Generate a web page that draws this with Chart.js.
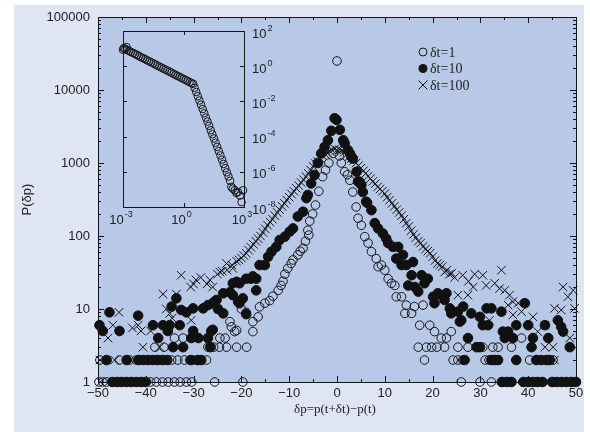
<!DOCTYPE html>
<html>
<head>
<meta charset="utf-8">
<script src="https://cdn.jsdelivr.net/npm/chart.js@4.4.0/dist/chart.umd.min.js"></script>
<style>
  html, body { margin: 0; padding: 0; background: #fff; }
  #wrap { position: relative; width: 590px; height: 432px; }
  #main { position: absolute; left: 0; top: 0; }
  #inset { position: absolute; left: 110px; top: 20px; }
</style>
</head>
<body>
<div id="wrap">
  <canvas id="main" width="590" height="432"></canvas>
  <canvas id="inset" width="180" height="215"></canvas>
</div>
<script>
// P(dp) histograms for three time lags: [dp, P]
const seriesLabels = ["\u03b4t=1", "\u03b4t=10", "\u03b4t=100"];

const openPts = [
  [0, 25000], [-0.8, 1350], [0.5, 1250], [-1.7, 1000], [-2.4, 800], [-3.0, 650], [-3.8, 410],
  [-4.5, 265], [-5.1, 200], [-5.7, 160], [-6.1, 120], [-5.9, 103], [-6.6, 85], [-7.1, 68],
  [-7.7, 62], [-8.2, 55], [-9.2, 47], [-9.6, 42], [-10.3, 36], [-10.9, 30], [-11.3, 24],
  [-11.7, 21], [-12.3, 18], [-13.4, 15], [-14.1, 13], [-15.1, 12], [-16.2, 10.7], [-16.5, 7.8],
  [-17.6, 6.7], [-17.6, 4.9], [-19.0, 9], [-20.0, 10], [-21.4, 4.9], [-21.0, 5.1], [-22.1, 5.7],
  [-22.4, 6.7],
  [-18.9, 3], [-21.0, 3], [-23.1, 3], [-24.6, 3], [-25.8, 3], [-27.0, 3], [-36.2, 3], [-38.1, 3],
  [-23.4, 4], [-24.5, 4], [-32.2, 4], [-34.0, 4],
  [-27.3, 2], [-29.5, 2], [-30.8, 2], [-31.9, 2], [-33.3, 2], [-34.6, 2], [-42.0, 2], [-43.4, 2],
  [-45.5, 2], [-49.6, 2],
  [-19.7, 1], [-25.6, 1], [-30.4, 1], [-31.5, 1], [-32.8, 1], [-34.0, 1], [-35.3, 1], [-36.5, 1],
  [-37.8, 1], [-39.0, 1], [-48.2, 1], [-49.0, 1], [-49.8, 1],
  [0.9, 1000], [1.6, 760], [2.2, 690], [2.7, 580], [3.3, 400], [4.0, 250], [4.4, 175], [5.1, 140],
  [5.8, 98], [6.5, 80], [7.2, 61], [8.2, 49], [8.6, 38], [9.3, 40], [10.0, 34], [10.7, 26],
  [11.4, 22.5], [12.1, 21], [12.4, 14.7], [13.5, 14.7], [14.2, 8.7], [14.5, 11.3], [15.6, 8.7],
  [16.2, 10.8], [18.0, 11.3], [17.3, 6], [19.4, 6], [20.4, 4.9], [21.8, 4], [22.9, 4], [23.9, 4.9],
  [38.6, 4],
  [17.0, 3], [18.7, 3], [19.8, 3], [20.9, 3], [22.5, 3], [25.3, 3], [27.4, 3], [30.5, 3], [32.6, 3],
  [33.7, 3], [36.5, 3],
  [18.3, 2], [24.3, 2], [25.3, 2], [26.3, 2], [31.0, 2], [31.8, 2], [32.7, 2], [33.5, 2], [37.5, 2],
  [40.3, 2], [45.2, 2],
  [26.0, 1], [29.9, 1], [32.3, 1], [34.7, 1], [36.2, 1], [38.9, 1], [41.7, 1], [45.5, 1], [49.8, 1]
];

const filledPts = [
  [-0.5, 4100], [-0.1, 3900], [-1.2, 2760], [0.6, 2850], [-1.9, 2050], [-2.6, 1660], [-3.3, 1350],
  [-4.0, 1000], [-4.7, 685], [-5.4, 525], [-6.1, 365], [-6.4, 330], [-7.1, 215], [-8.2, 185],
  [-9.2, 127], [-9.9, 115], [-10.9, 98], [-12.0, 88], [-12.7, 71], [-13.7, 61], [-14.4, 52],
  [-15.1, 40], [-16.2, 40], [-16.9, 26], [-17.6, 28], [-18.0, 26], [-16.9, 18], [-19.0, 26],
  [-20.4, 22.5], [-21.0, 23.6], [-21.8, 22.5], [-22.4, 17], [-21.8, 15.5], [-23.8, 16.4],
  [-19.7, 14], [-20.4, 12], [-20.7, 12.6], [-25.2, 13.3], [-24.9, 10], [-23.8, 8.7], [-19.0, 8.5],
  [-25.6, 12.6], [-26.0, 12], [-27.0, 11.3], [-28.0, 10.2], [-30.1, 10.2], [-31.5, 9], [-32.6, 9.7],
  [-33.6, 14], [-34.6, 10.8], [-26.3, 5], [-26.0, 5.2], [-27.0, 4], [-29.0, 4], [-30.5, 4],
  [-29.8, 4.2], [-30.1, 5], [-32.9, 6], [-34.3, 3], [-32.2, 3], [-26.5, 3], [-35.0, 6], [-36.4, 6],
  [-38.5, 6], [-35.4, 5], [-37.4, 4], [-41.6, 8.1], [-47.6, 9], [-49.7, 6], [-49.0, 5], [-45.5, 5],
  [-48.2, 2], [-44.0, 2], [-41.5, 2], [-40.5, 2], [-39.5, 2], [-38.5, 2], [-37.5, 2], [-36.5, 2],
  [-35.5, 2], [-30.5, 2], [-29.1, 2], [-28.4, 2],
  [-47.0, 1], [-46.0, 1], [-45.0, 1], [-44.0, 1], [-43.0, 1], [-42.0, 1], [-41.0, 1], [-40.0, 1],
  [1.3, 2050], [1.6, 1870], [2.3, 1500], [2.7, 1350], [3.0, 1220], [3.3, 1150], [4.1, 760],
  [4.4, 555], [4.7, 555], [5.1, 500], [5.4, 400], [6.1, 295], [6.3, 285], [7.2, 226], [7.9, 150],
  [8.6, 127], [9.6, 108], [10.3, 92], [10.7, 80], [11.7, 71], [12.8, 71], [12.4, 49], [13.8, 55],
  [13.5, 40], [14.5, 40], [15.9, 44], [15.6, 29], [14.9, 21], [16.3, 20], [17.0, 17.3], [17.7, 29],
  [19.0, 26], [18.3, 22.5], [20.1, 14.7], [21.1, 16.4], [21.8, 15.5], [22.9, 16.4], [20.4, 12],
  [22.5, 13.3], [23.6, 10.2], [23.9, 8.7], [25.3, 9.2], [26.0, 7], [25.7, 6.7], [26.4, 10.8],
  [28.1, 8.7], [29.9, 7.8], [31.3, 10.2], [32.3, 10.2], [34.4, 9.2], [30.5, 6], [31.6, 6],
  [34.7, 4.9], [35.8, 4.9], [35.1, 4], [36.8, 4], [37.5, 6], [39.3, 12], [40.0, 6], [41.0, 4],
  [43.5, 6], [44.2, 4], [27.4, 4], [29.2, 3], [29.9, 3], [40.7, 3], [46.2, 7], [46.9, 5.7],
  [47.3, 4.9], [48.7, 3],
  [26.7, 2], [32.3, 2], [33.0, 2], [33.7, 2], [37.5, 2], [41.7, 2], [42.7, 2], [43.8, 2], [44.5, 2],
  [34.5, 1], [35.5, 1], [36.5, 1], [39, 1], [40, 1], [41, 1], [42, 1], [43, 1], [45, 1], [46, 1],
  [47, 1], [48, 1], [49, 1], [50, 1]
];

const crossPts = [
  [0, 1500], [-0.5, 1560], [0.5, 1520], [-1, 1500], [1, 1480], [-1.5, 1450], [1.5, 1400],
  [-2, 1380], [2, 1300], [-2.5, 1320], [2.5, 1220], [-3, 1250], [3, 1150], [-3.5, 1150],
  [3.5, 1080], [-4, 1050], [4, 1000], [-4.5, 980], [4.5, 920], [-5, 900], [5, 850], [-5.5, 800],
  [5.5, 780], [-6, 720], [6, 720], [-6.5, 650], [6.5, 660], [-7, 590], [7, 610], [-7.5, 540],
  [7.5, 560], [-8, 490], [8, 520], [-8.5, 450], [8.5, 470], [-9, 410], [9, 440], [-9.5, 375],
  [9.5, 410], [-10, 340], [10, 380], [-10.5, 310], [10.5, 340], [-11, 280], [11, 310],
  [-11.5, 255], [11.5, 280], [-12, 230], [12, 255], [-12.5, 210], [12.5, 230], [-13, 190],
  [13, 210], [-13.5, 170], [13.5, 190], [-14, 155], [14, 170], [-14.5, 140], [14.5, 150],
  [-15, 125], [15, 135], [-15.5, 112], [15.5, 118], [-16, 100], [16, 105], [-16.5, 92], [16.5, 95],
  [-17, 85], [17, 85], [-17.5, 77], [17.5, 80], [-18, 70], [18, 72], [-18.5, 64], [18.5, 66],
  [-19, 58], [19, 62], [-19.5, 54], [19.5, 58], [-20, 50], [20, 52], [-20.5, 47], [20.5, 46],
  [-21, 45], [21, 42], [-21.8, 36], [21.5, 40], [-22, 40], [22, 38], [-23.1, 42], [22.5, 32],
  [-23, 34], [23, 34], [-24.5, 32], [23.5, 30], [-24, 33], [24, 31], [-25, 30], [24.6, 27],
  [-26, 20], [25.3, 15.5], [-26.6, 25], [26.3, 29], [-27.2, 22], [27.4, 15.5], [-28.5, 27],
  [27.5, 24], [-29.5, 25], [28.5, 20], [-30, 22], [28.8, 30], [-30.6, 20], [30.5, 29],
  [-32.6, 29], [31.2, 21], [-30.5, 7], [31.9, 7], [-33.6, 16], [33, 22.5], [-34.5, 7.5], [34, 19],
  [-35, 8.7], [34.4, 34], [-35.7, 10], [35.1, 18], [-36.4, 16], [35.8, 11.3], [-37.1, 3],
  [36.1, 15.5], [-39, 5], [36.8, 12.6], [-40.6, 3], [36.8, 8.3], [-41, 5], [37.9, 12], [-41.6, 6],
  [38.6, 9.2], [-42.8, 5.5], [41, 7.8], [-45.6, 9], [42, 4.9], [-46.9, 6], [43.5, 3], [-47.9, 4],
  [43.5, 6], [-49.6, 2], [45.2, 3], [-46.5, 2], [45.5, 10.2], [-49.5, 1], [46.9, 9.7], [47.3, 20],
  [48.3, 14.7], [49.4, 18], [49.7, 10.2], [48.7, 4], [44.5, 2], [45.5, 2], [40.5, 1], [46.5, 1],
  [48, 1]
];

// inset: log-log distribution
const insetX = [0.0010, 0.0011, 0.0013, 0.0015, 0.0016, 0.0020, 0.0025, 0.0032, 0.0040, 0.0050,
  0.0063, 0.0079, 0.010, 0.0126, 0.0158, 0.020, 0.025, 0.032, 0.040, 0.050, 0.063, 0.079, 0.10,
  0.126, 0.158, 0.20, 0.25, 0.32, 0.40, 0.50, 0.63, 0.79, 1.0, 1.26, 1.58, 2.0, 2.5, 3.0, 3.55,
  4.27, 5.13, 6.17, 7.41, 8.91, 10.7, 12.9, 15.5, 18.6, 22.4, 26.9, 32.4, 38.9, 46.8, 56.2, 67.6,
  81.3, 97.7, 117, 141, 170, 204, 234, 282, 347, 417, 501, 631, 891, 759];
const insetY = [8.7, 10.7, 9.6, 12.3, 8.4, 7.3, 6.4, 5.6, 4.9, 4.3, 3.7, 3.2, 2.85, 2.5, 2.15,
  1.9, 1.65, 1.44, 1.26, 1.1, 0.96, 0.84, 0.73, 0.64, 0.56, 0.49, 0.43, 0.37, 0.32, 0.28, 0.25,
  0.215, 0.19, 0.165, 0.145, 0.125, 0.11, 0.10, 0.059, 0.034, 0.0195, 0.0112, 0.0065, 0.0037,
  0.0021, 0.0012, 7.1e-4, 4.1e-4, 2.3e-4, 1.35e-4, 7.8e-5, 4.5e-5, 2.6e-5, 1.5e-5, 8.5e-6,
  4.9e-6, 2.8e-6, 1.6e-6, 9.3e-7, 5.4e-7, 3.1e-7, 1.4e-7, 1.1e-7, 8.9e-8, 6.3e-8, 7.1e-8,
  4.5e-8, 8.9e-8, 1.9e-8];

// axis ticks
const xTicks = [-50, -40, -30, -20, -10, 0, 10, 20, 30, 40, 50];
const yTicks = [1, 10, 100, 1000, 10000, 100000];
const insetXExp = [-3, 0, 3];
const insetYExp = [2, 0, -2, -4, -6, -8];

const outerBg = "#dfe5f2";
const plotBg = "#b8c9e7";
const ink = "#151515";
const sansFont = "'Liberation Sans', Arial, sans-serif";
const serifFont = "'Liberation Serif', 'Times New Roman', serif";

const toXY = pts => pts.map(p => ({ x: p[0], y: p[1] }));

function minusSign(v) {
  return v < 0 ? "\u2212" + Math.abs(v) : String(v);
}

const mainDecor = {
  id: "mainDecor",
  beforeDraw(chart) {
    const { ctx, chartArea: a } = chart;
    ctx.save();
    ctx.fillStyle = "#ffffff";
    ctx.fillRect(0, 0, chart.width, chart.height);
    ctx.fillStyle = outerBg;
    ctx.fillRect(14, 5, 570, 427);
    ctx.fillStyle = plotBg;
    ctx.fillRect(a.left, a.top, a.right - a.left, a.bottom - a.top);
    ctx.restore();
  },
  afterDatasetsDraw(chart) {
    const { ctx, chartArea: a, scales } = chart;
    const xs = scales.x;
    const ys = scales.y;
    ctx.save();
    ctx.strokeStyle = ink;
    ctx.lineWidth = 1;
    ctx.beginPath();
    // x ticks, inward, top and bottom
    for (let i = 0; i < xTicks.length; i++) {
      const px = Math.round(xs.getPixelForValue(xTicks[i])) + 0.5;
      ctx.moveTo(px, a.bottom); ctx.lineTo(px, a.bottom - 6);
      ctx.moveTo(px, a.top); ctx.lineTo(px, a.top + 6);
      if (i < xTicks.length - 1) {
        const pm = Math.round(xs.getPixelForValue((xTicks[i] + xTicks[i + 1]) / 2)) + 0.5;
        ctx.moveTo(pm, a.bottom); ctx.lineTo(pm, a.bottom - 3);
        ctx.moveTo(pm, a.top); ctx.lineTo(pm, a.top + 3);
      }
    }
    // y ticks, decades plus minor
    yTicks.forEach((d, i) => {
      const mults = i < yTicks.length - 1 ? [1, 2, 3, 4, 5, 6, 7, 8, 9] : [1];
      mults.forEach(m => {
        const py = Math.round(ys.getPixelForValue(d * m)) + 0.5;
        const len = m === 1 ? 6 : 3;
        ctx.moveTo(a.left, py); ctx.lineTo(a.left + len, py);
        ctx.moveTo(a.right, py); ctx.lineTo(a.right - len, py);
      });
    });
    ctx.stroke();
    ctx.strokeRect(Math.round(a.left) + 0.5, Math.round(a.top) + 0.5,
      Math.round(a.right - a.left), Math.round(a.bottom - a.top));

    // axis titles
    ctx.fillStyle = "#222";
    ctx.font = "13px " + serifFont;
    ctx.textAlign = "center";
    ctx.textBaseline = "middle";
    ctx.fillText("\u03b4p=p(t+\u03b4t)\u2212p(t)", (a.left + a.right) / 2 - 2, 410);
    ctx.save();
    ctx.translate(27, (a.top + a.bottom) / 2);
    ctx.rotate(-Math.PI / 2);
    ctx.font = "13px " + sansFont;
    ctx.fillText("P(\u03b4p)", 0, 0);
    ctx.restore();

    // legend
    const lx = a.left + 325;
    const rows = [a.top + 35, a.top + 51.5, a.top + 68];
    ctx.font = "14px " + serifFont;
    ctx.textAlign = "left";
    ctx.textBaseline = "middle";
    ctx.strokeStyle = ink;
    ctx.fillStyle = ink;
    ctx.beginPath();
    ctx.arc(lx, rows[0], 4, 0, Math.PI * 2);
    ctx.stroke();
    ctx.beginPath();
    ctx.arc(lx, rows[1], 4.5, 0, Math.PI * 2);
    ctx.fill();
    ctx.beginPath();
    ctx.moveTo(lx - 4.5, rows[2] - 4.5); ctx.lineTo(lx + 4.5, rows[2] + 4.5);
    ctx.moveTo(lx - 4.5, rows[2] + 4.5); ctx.lineTo(lx + 4.5, rows[2] - 4.5);
    ctx.stroke();
    ctx.fillStyle = "#222";
    seriesLabels.forEach((t, i) => ctx.fillText(t, lx + 7, rows[i] + 1));
    ctx.restore();
  }
};

new Chart(document.getElementById("main"), {
  type: "scatter",
  data: {
    datasets: [
      {
        label: seriesLabels[2], data: toXY(crossPts), order: 1,
        pointStyle: "crossRot", pointRadius: 6, borderWidth: 1,
        borderColor: ink, backgroundColor: ink, clip: false
      },
      {
        label: seriesLabels[1], data: toXY(filledPts), order: 2,
        pointStyle: "circle", pointRadius: 4.8, borderWidth: 1,
        borderColor: "#111", backgroundColor: "#111", clip: false
      },
      {
        label: seriesLabels[0], data: toXY(openPts), order: 3,
        pointStyle: "circle", pointRadius: 4.3, borderWidth: 1,
        borderColor: ink, backgroundColor: "rgba(0,0,0,0)", clip: false
      }
    ]
  },
  options: {
    responsive: false,
    animation: false,
    devicePixelRatio: 1,
    layout: { padding: { top: 17, right: 14, bottom: 0, left: 0 } },
    plugins: { legend: { display: false }, tooltip: { enabled: false } },
    scales: {
      x: {
        type: "linear", min: -50, max: 50,
        afterBuildTicks: s => { s.ticks = xTicks.map(v => ({ value: v })); },
        afterFit: s => { s.height = 50; },
        grid: { display: false, drawTicks: false },
        border: { display: false },
        ticks: {
          color: "#222", padding: 4, maxRotation: 0, autoSkip: false,
          font: { family: sansFont, size: 13 },
          callback: v => minusSign(v)
        }
      },
      y: {
        type: "logarithmic", min: 1, max: 100000,
        afterBuildTicks: s => { s.ticks = yTicks.map(v => ({ value: v })); },
        afterFit: s => { s.width = 98; },
        grid: { display: false, drawTicks: false },
        border: { display: false },
        ticks: {
          color: "#222", padding: 8, autoSkip: false,
          font: { family: sansFont, size: 13 },
          callback: v => String(v)
        }
      }
    }
  },
  plugins: [mainDecor]
});

// inset chart
function drawPow(ctx, exp, x, y, align) {
  const base = "10";
  const sup = exp < 0 ? "-" + Math.abs(exp) : String(exp);
  ctx.font = "13px " + sansFont;
  const wb = ctx.measureText(base).width;
  ctx.font = "9px " + sansFont;
  const ws = ctx.measureText(sup).width;
  const start = align === "center" ? x - (wb + ws + 1) / 2 : x;
  ctx.font = "13px " + sansFont;
  ctx.fillText(base, start, y);
  ctx.font = "9px " + sansFont;
  ctx.fillText(sup, start + wb + 1, y - 7);
}

const insetDecor = {
  id: "insetDecor",
  afterDatasetsDraw(chart) {
    const { ctx, chartArea: a, scales } = chart;
    ctx.save();
    ctx.strokeStyle = ink;
    ctx.lineWidth = 1;
    ctx.strokeRect(Math.round(a.left) + 0.5, Math.round(a.top) + 0.5,
      Math.round(a.right - a.left), Math.round(a.bottom - a.top));
    ctx.beginPath();
    insetYExp.forEach(e => {
      const py = Math.round(scales.y.getPixelForValue(Math.pow(10, e))) + 0.5;
      ctx.moveTo(a.left, py); ctx.lineTo(a.left + 4, py);
      ctx.moveTo(a.right, py); ctx.lineTo(a.right - 4, py);
    });
    insetXExp.forEach(e => {
      const px = Math.round(scales.x.getPixelForValue(Math.pow(10, e))) + 0.5;
      ctx.moveTo(px, a.top); ctx.lineTo(px, a.top + 4);
      ctx.moveTo(px, a.bottom); ctx.lineTo(px, a.bottom - 4);
    });
    ctx.stroke();

    ctx.fillStyle = "#222";
    ctx.textAlign = "left";
    ctx.textBaseline = "alphabetic";
    insetYExp.forEach(e => {
      const py = scales.y.getPixelForValue(Math.pow(10, e));
      drawPow(ctx, e, a.right + 8, py + 6.5, "left");
    });
    insetXExp.forEach(e => {
      const px = scales.x.getPixelForValue(Math.pow(10, e));
      drawPow(ctx, e, px - 2, a.bottom + 16.5, "center");
    });
    ctx.restore();
  }
};

new Chart(document.getElementById("inset"), {
  type: "scatter",
  data: {
    datasets: [{
      data: insetX.map((x, i) => ({ x: x, y: insetY[i] })),
      pointStyle: "circle", pointRadius: 3.8, borderWidth: 1,
      borderColor: ink, backgroundColor: "rgba(0,0,0,0)", clip: false
    }]
  },
  options: {
    responsive: false,
    animation: false,
    devicePixelRatio: 1,
    layout: { padding: { top: 11, right: 46, bottom: 28, left: 13 } },
    plugins: { legend: { display: false }, tooltip: { enabled: false } },
    scales: {
      x: { type: "logarithmic", min: 1e-3, max: 1e3, display: false },
      y: { type: "logarithmic", min: 1e-8, max: 1e2, display: false }
    }
  },
  plugins: [insetDecor]
});
</script>
</body>
</html>
